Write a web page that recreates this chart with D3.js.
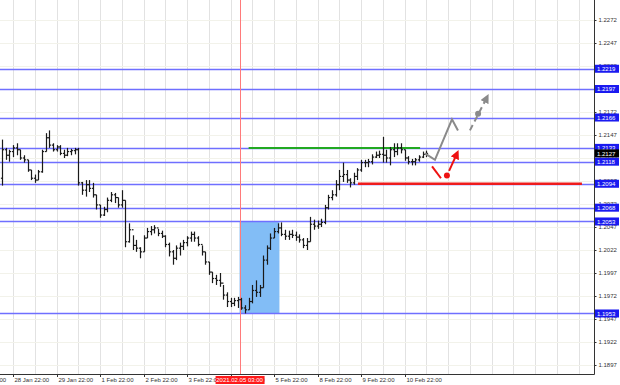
<!DOCTYPE html>
<html><head><meta charset="utf-8">
<script src="https://cdn.jsdelivr.net/npm/d3@7/dist/d3.min.js"></script>
<style>
body{margin:0;background:#fff}
svg{display:block}
text{font-family:"Liberation Sans",Arial,sans-serif}
</style>
</head><body>
<svg id="c" width="620" height="385"></svg>
<script>
// ---------- DATA ----------
// 2-hour bars, hours counted from 28 Jan 22:00 (trading hours only)
const firstBarHour = -6;
const barStepHours = 2;
const firstOpen = 1.2100;
const barHigh = [
1.2142,1.2133,1.2131,1.2136,1.2138,1.2131,1.2125,1.2120,1.2109,1.2104,
1.2109,1.2131,1.2149,1.2152,1.2138,1.2136,1.2136,1.2131,1.2133,1.2132,
1.2133,1.2133,1.2096,1.2098,1.2098,1.2095,1.2082,1.2071,1.2069,1.2079,
1.2085,1.2084,1.2079,1.2087,1.2076,1.2051,1.2038,1.2033,1.2025,1.2038,
1.2046,1.2048,1.2049,1.2045,1.2043,1.2038,1.2030,1.2022,1.2027,1.2030,
1.2033,1.2037,1.2042,1.2042,1.2037,1.2027,1.2020,1.2009,1.1998,1.1995,
1.1997,1.1984,1.1976,1.1970,1.1970,1.1971,1.1970,1.1962,1.1970,1.1984,
1.1989,1.1984,1.2016,1.2027,1.2040,1.2046,1.2051,1.2052,1.2044,1.2043,
1.2044,1.2042,1.2039,1.2035,1.2035,1.2058,1.2055,1.2054,1.2056,1.2071,
1.2082,1.2087,1.2098,1.2109,1.2117,1.2109,1.2100,1.2106,1.2111,1.2120,
1.2120,1.2121,1.2126,1.2129,1.2130,1.2145,1.2131,1.2134,1.2138,1.2138,
1.2138,1.2131,1.2124,1.2121,1.2122,1.2125,1.2129,1.2130];
const barLow = [
1.2092,1.2120,1.2118,1.2123,1.2125,1.2120,1.2117,1.2107,1.2098,1.2095,
1.2098,1.2106,1.2129,1.2133,1.2129,1.2129,1.2125,1.2122,1.2124,1.2125,
1.2126,1.2092,1.2082,1.2080,1.2085,1.2079,1.2066,1.2057,1.2059,1.2063,
1.2074,1.2073,1.2068,1.2068,1.2025,1.2030,1.2022,1.2020,1.2013,1.2020,
1.2035,1.2038,1.2040,1.2037,1.2035,1.2025,1.2015,1.2006,1.2011,1.2016,
1.2022,1.2026,1.2031,1.2031,1.2026,1.2016,1.2006,1.1995,1.1986,1.1984,
1.1982,1.1968,1.1960,1.1960,1.1961,1.1959,1.1957,1.1953,1.1957,1.1964,
1.1971,1.1971,1.1981,1.2006,1.2022,1.2035,1.2040,1.2037,1.2033,1.2033,
1.2035,1.2032,1.2030,1.2024,1.2022,1.2031,1.2044,1.2045,1.2047,1.2050,
1.2066,1.2076,1.2080,1.2087,1.2096,1.2095,1.2090,1.2093,1.2098,1.2107,
1.2112,1.2112,1.2115,1.2122,1.2122,1.2117,1.2117,1.2114,1.2123,1.2125,
1.2127,1.2119,1.2115,1.2114,1.2114,1.2118,1.2122,1.2123];
const barClose = [
1.2131,1.2125,1.2129,1.2133,1.2131,1.2122,1.2120,1.2109,1.2100,1.2098,
1.2107,1.2129,1.2144,1.2136,1.2131,1.2134,1.2127,1.2125,1.2129,1.2130,
1.2131,1.2095,1.2087,1.2093,1.2089,1.2082,1.2071,1.2060,1.2066,1.2076,
1.2082,1.2079,1.2071,1.2076,1.2031,1.2044,1.2027,1.2024,1.2020,1.2035,
1.2042,1.2044,1.2046,1.2040,1.2037,1.2028,1.2020,1.2013,1.2024,1.2026,
1.2030,1.2035,1.2039,1.2035,1.2028,1.2020,1.2009,1.1998,1.1991,1.1989,
1.1986,1.1973,1.1966,1.1964,1.1967,1.1968,1.1959,1.1957,1.1966,1.1978,
1.1976,1.1981,1.2011,1.2024,1.2035,1.2042,1.2046,1.2039,1.2037,1.2039,
1.2038,1.2036,1.2033,1.2027,1.2031,1.2050,1.2048,1.2050,1.2052,1.2068,
1.2079,1.2082,1.2093,1.2102,1.2104,1.2098,1.2095,1.2102,1.2109,1.2117,
1.2117,1.2118,1.2123,1.2125,1.2126,1.2125,1.2122,1.2131,1.2129,1.2133,
1.2131,1.2122,1.2118,1.2118,1.2120,1.2123,1.2126,1.2127];

const priceTicks = [1.2272,1.2247,1.2222,1.2197,1.2172,1.2147,1.2122,1.2097,
  1.2072,1.2047,1.2022,1.1997,1.1972,1.1947,1.1922,1.1897];
const levelPrices = [1.2219,1.2197,1.2166,1.2133,1.2118,1.2094,1.2068,1.2053,1.1953];
const currentPrice = 1.2127;

const dayTickHours = [-24,0,24,48,72,96,120,144,168,192,216];
const dayTickLabels = ["27 Jan 22:00","28 Jan 22:00","29 Jan 22:00","1 Feb 22:00",
  "2 Feb 22:00","3 Feb 22:00","4 Feb 22:00","5 Feb 22:00","8 Feb 22:00","9 Feb 22:00","10 Feb 22:00"];
const gridStepHours = 12;

const markerHour = 125;
const markerLabel = "2021.02.05 03:00";

const boxHours = [125, 147];
const boxPrices = [1.2053, 1.1953];

const greenHours = [130, 224.6];
const greenPrice = 1.2133;
const redHours = [190.3, 313.9];
const redPrice = 1.2094;

const greyPathHours = [227.3, 232.8, 242.2, 245.5];
const greyPathPrices = [1.2127, 1.2120, 1.2164, 1.2152];
const greyDashHours = [252.1, 261.5];
const greyDashPrices = [1.2152, 1.2188];
const greyDotHour = 256.6, greyDotPrice = 1.2170;

const redStrokeHours = [231.2, 236.1];
const redStrokePrices = [1.2113, 1.2100];
const redDotHour = 239.4, redDotPrice = 1.2103;
const redArrowHours = [240.6, 245.0];
const redArrowPrices = [1.2108, 1.2127];

// ---------- CHART ----------
const W = 620, H = 385;
const plotR = 594, plotB = 374;
const svg = d3.select("#c");
svg.append("rect").attr("width", W).attr("height", H).attr("fill", "#fff");

const x = d3.scaleLinear().domain([0, 24]).range([13, 56.5]);
const y = d3.scaleLinear().domain([1.1897, 1.2272]).range([365, 20]);

const defs = svg.append("defs");
function marker(id, color) {
  defs.append("marker").attr("id", id).attr("viewBox", "0 0 10 10")
    .attr("refX", 6).attr("refY", 5).attr("markerWidth", 4.5).attr("markerHeight", 4.5)
    .attr("orient", "auto-start-reverse")
    .append("path").attr("d", "M0,0L10,5L0,10z").attr("fill", color);
}
marker("ag", "#8a8a8a");
marker("ar", "#ee1111");

const clip = defs.append("clipPath").attr("id", "plot");
clip.append("rect").attr("x", 0).attr("y", 0).attr("width", plotR).attr("height", plotB);
const g = svg.append("g").attr("clip-path", "url(#plot)");

// grid
const gridH = d3.range(Math.ceil(x.invert(0) / gridStepHours) * gridStepHours, x.invert(plotR), gridStepHours);
g.selectAll("line.vg").data(gridH).join("line")
  .attr("x1", d => Math.round(x(d)) + 0.5).attr("x2", d => Math.round(x(d)) + 0.5)
  .attr("y1", 0).attr("y2", plotB).attr("stroke", "#e2e2e2").attr("stroke-width", 1);
g.selectAll("line.hg").data(priceTicks).join("line")
  .attr("x1", 0).attr("x2", plotR)
  .attr("y1", d => Math.round(y(d)) + 0.5).attr("y2", d => Math.round(y(d)) + 0.5)
  .attr("stroke", "#f2f2ea").attr("stroke-width", 1);

// box
g.append("rect")
  .attr("x", x(boxHours[0])).attr("width", x(boxHours[1]) - x(boxHours[0]))
  .attr("y", y(boxPrices[0])).attr("height", y(boxPrices[1]) - y(boxPrices[0]))
  .attr("fill", "#82bdf6");

// levels
g.selectAll("line.lv").data(levelPrices).join("line")
  .attr("x1", 0).attr("x2", plotR)
  .attr("y1", d => Math.round(y(d)) + 0.5).attr("y2", d => Math.round(y(d)) + 0.5)
  .attr("stroke", "#6f6fff").attr("stroke-width", 1.5);

// marker vertical line
g.append("line").attr("x1", Math.round(x(markerHour)) + 0.5).attr("x2", Math.round(x(markerHour)) + 0.5)
  .attr("y1", 0).attr("y2", plotB).attr("stroke", "#ff7a7a").attr("stroke-width", 1);

// green & red lines
g.append("line").attr("x1", x(greenHours[0])).attr("x2", x(greenHours[1]))
  .attr("y1", y(greenPrice)).attr("y2", y(greenPrice))
  .attr("stroke", "#22a822").attr("stroke-width", 2);
g.append("line").attr("x1", x(redHours[0])).attr("x2", x(redHours[1]))
  .attr("y1", y(redPrice)).attr("y2", y(redPrice))
  .attr("stroke", "#ee1c1c").attr("stroke-width", 2.4);

// bars
const bars = barClose.map((c, i) => ({
  h: firstBarHour + i * barStepHours,
  o: i === 0 ? firstOpen : barClose[i - 1],
  hi: barHigh[i], lo: barLow[i], c
}));
const bg = g.append("g").attr("stroke", "#1a1a1a").attr("stroke-width", 1.2);
bars.forEach(b => {
  const xx = Math.round(x(b.h)) + 0.5;
  bg.append("line").attr("x1", xx).attr("x2", xx).attr("y1", y(b.hi)).attr("y2", y(b.lo));
  bg.append("line").attr("x1", xx - 1.6).attr("x2", xx).attr("y1", y(b.o)).attr("y2", y(b.o));
  bg.append("line").attr("x1", xx).attr("x2", xx + 1.6).attr("y1", y(b.c)).attr("y2", y(b.c));
});

// forecast drawings
const line = d3.line().x(d => x(d[0])).y(d => y(d[1]));
g.append("path").attr("d", line(d3.zip(greyPathHours, greyPathPrices)))
  .attr("fill", "none").attr("stroke", "#8a8a8a").attr("stroke-width", 2)
  .attr("stroke-linejoin", "miter");
g.append("path").attr("d", line(d3.zip(greyDashHours, greyDashPrices)))
  .attr("fill", "none").attr("stroke", "#8a8a8a").attr("stroke-width", 2)
  .attr("stroke-dasharray", "6,4").attr("marker-end", "url(#ag)");
g.append("circle").attr("cx", x(greyDotHour)).attr("cy", y(greyDotPrice)).attr("r", 3).attr("fill", "#8a8a8a");

g.append("path").attr("d", line(d3.zip(redStrokeHours, redStrokePrices)))
  .attr("fill", "none").attr("stroke", "#ee1111").attr("stroke-width", 2);
g.append("path").attr("d", line(d3.zip(redArrowHours, redArrowPrices)))
  .attr("fill", "none").attr("stroke", "#ee1111").attr("stroke-width", 2)
  .attr("marker-end", "url(#ar)");
g.append("circle").attr("cx", x(redDotHour)).attr("cy", y(redDotPrice)).attr("r", 3).attr("fill", "#ee1111");

// axes frame
svg.append("line").attr("x1", plotR + 0.5).attr("x2", plotR + 0.5).attr("y1", 0).attr("y2", plotB + 0.5)
  .attr("stroke", "#333").attr("stroke-width", 1);
svg.append("line").attr("x1", 0).attr("x2", plotR + 0.5).attr("y1", plotB + 0.5).attr("y2", plotB + 0.5)
  .attr("stroke", "#333").attr("stroke-width", 1);

// right axis
const ya = d3.axisRight(y).tickValues(priceTicks).tickFormat(d3.format(".4f")).tickSize(2).tickPadding(2);
const yag = svg.append("g").attr("transform", `translate(${plotR + 0.5},0)`).call(ya);
yag.select(".domain").remove();
yag.selectAll("text").attr("font-size", 6).attr("fill", "#333");
yag.selectAll("line").attr("stroke", "#333");

// level labels
const lab = svg.append("g");
levelPrices.forEach(p => {
  lab.append("rect").attr("x", plotR + 1).attr("y", y(p) - 4).attr("width", 24).attr("height", 8).attr("fill", "#1a1af0");
  lab.append("text").attr("x", plotR + 3).attr("y", y(p) + 2.2).attr("font-size", 6).attr("fill", "#fff")
    .text(d3.format(".4f")(p));
});
lab.append("rect").attr("x", plotR + 1).attr("y", y(currentPrice) - 4).attr("width", 24).attr("height", 8).attr("fill", "#000");
lab.append("text").attr("x", plotR + 3).attr("y", y(currentPrice) + 2.2).attr("font-size", 6).attr("fill", "#fff")
  .text(d3.format(".4f")(currentPrice));

// bottom axis
const xa = svg.append("g");
dayTickHours.forEach((h, i) => {
  const xx = Math.round(x(h)) + 0.5;
  xa.append("line").attr("x1", xx).attr("x2", xx).attr("y1", plotB).attr("y2", plotB + 3).attr("stroke", "#333");
  xa.append("text").attr("x", xx + 1).attr("y", plotB + 8).attr("font-size", 6).attr("fill", "#333")
    .text(dayTickLabels[i]);
});
const mx = x(markerHour);
xa.append("rect").attr("x", mx - 24).attr("y", plotB + 2).attr("width", 49).attr("height", 8).attr("fill", "#ff1a1a");
xa.append("text").attr("x", mx).attr("y", plotB + 8).attr("font-size", 6).attr("fill", "#fff")
  .attr("text-anchor", "middle").text(markerLabel);
</script>
</body></html>
